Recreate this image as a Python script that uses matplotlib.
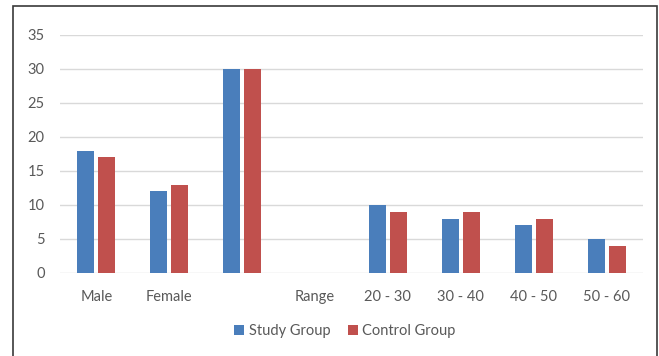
import matplotlib
matplotlib.use("Agg")
import matplotlib.pyplot as plt
import numpy as np
from matplotlib.patches import Rectangle

categories = ["Male", "Female", "", "Range", "20 - 30", "30 - 40", "40 - 50", "50 - 60"]
study = [18, 12, 30, np.nan, 10, 8, 7, 5]
control = [17, 13, 30, np.nan, 9, 9, 8, 4]
series_names = ["Study Group", "Control Group"]
colors = ["#4a7ebb", "#c0504d"]
yticks = [0, 5, 10, 15, 20, 25, 30, 35]

plt.rcParams['font.family'] = ['Lato', 'DejaVu Sans']

W, H = 659, 356
fig = plt.figure(figsize=(W/100, H/100), dpi=100)
ax = fig.add_axes([60/W, 1-273/H, (643-60)/W, (273-35)/H])

x = np.arange(len(categories))
bw = 0.233
gap = 0.055
off = (bw + gap) / 2
ax.bar(x - off, study, bw, color=colors[0], label=series_names[0], zorder=3)
ax.bar(x + off, control, bw, color=colors[1], label=series_names[1], zorder=3)

ax.set_xlim(-0.5, len(categories) - 0.5)
ax.set_ylim(0, 35)
ax.set_yticks(yticks)
ax.set_xticks(x)
ax.set_xticklabels(categories)
ax.grid(axis='y', color='#d9d9d9', linewidth=1, zorder=0)
for s in ax.spines.values():
    s.set_visible(False)
ax.tick_params(axis='both', length=0, colors='#595959', labelsize=10.5)
ax.tick_params(axis='x', pad=12.5)
ax.tick_params(axis='y', pad=11)

leg = fig.legend(loc='center', bbox_to_anchor=(345/W, 1-331/H), ncol=2, frameon=False,
                 fontsize=10.5, handlelength=0.7, handleheight=0.7, handletextpad=0.3,
                 columnspacing=1.2, labelcolor='#595959')

fig.patches.append(Rectangle((13/W, -0.1), (657-13)/W, 1.1 - 6/H, transform=fig.transFigure,
                             fill=False, edgecolor='#3a3a3a', linewidth=1.2))

fig.savefig("out.png", dpi=100)
